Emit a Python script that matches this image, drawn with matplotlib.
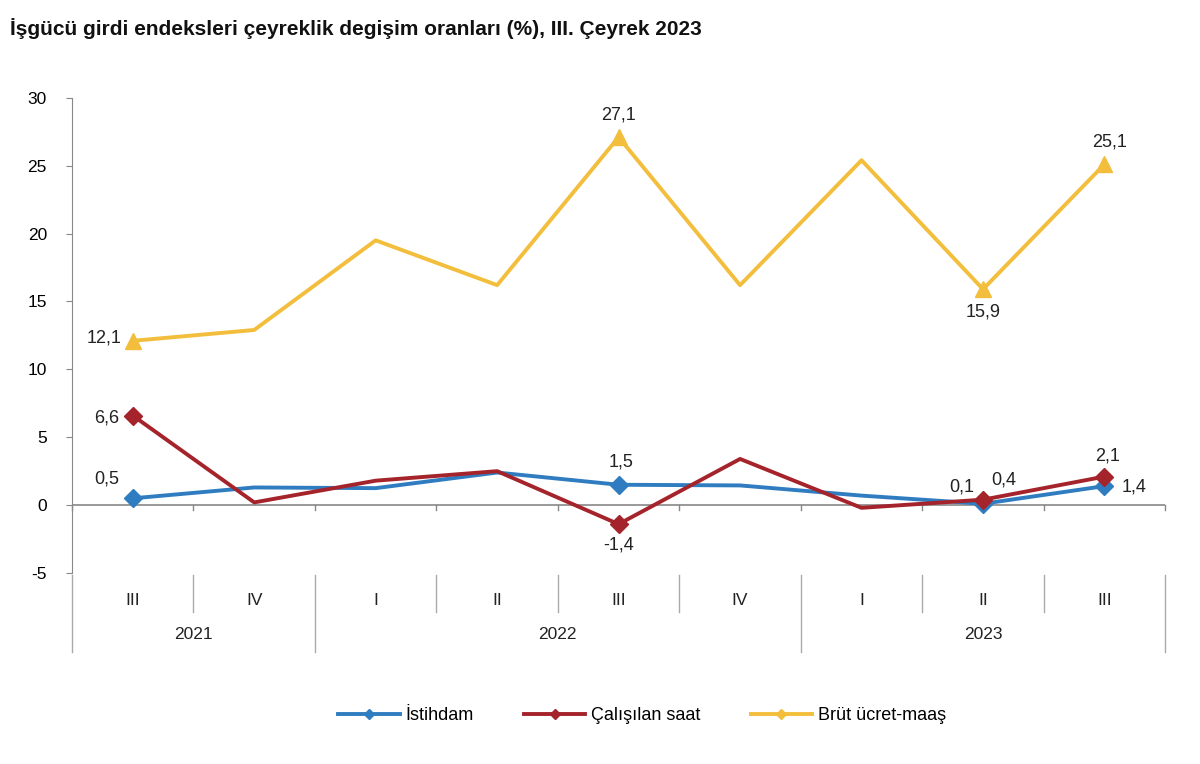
import matplotlib
matplotlib.use("Agg")
import matplotlib.pyplot as plt
import matplotlib.transforms as mtransforms

plt.rcParams['font.family'] = ['Liberation Sans', 'DejaVu Sans']
plt.rcParams['axes.unicode_minus'] = False

quarters = ['III', 'IV', 'I', 'II', 'III', 'IV', 'I', 'II', 'III']
years = ['2021', '2022', '2023']
year_spans = [(0, 2), (2, 6), (6, 9)]   # index ranges of quarters per year

istihdam = [0.5, 1.3, 1.25, 2.4, 1.5, 1.45, 0.7, 0.1, 1.4]
calisilan = [6.6, 0.2, 1.8, 2.5, -1.4, 3.4, -0.2, 0.4, 2.1]
brut = [12.1, 12.9, 19.5, 16.2, 27.1, 16.2, 25.4, 15.9, 25.1]

marked = [0, 4, 7, 8]

c_blue = '#2F7DC0'
c_red = '#A5232B'
c_yel = '#F2BE3C'

fig = plt.figure(figsize=(12, 7.64), dpi=100)
ax = fig.add_axes([0.06, 0.25, 0.911, 0.622])

x = list(range(len(quarters)))
ax.plot(x, istihdam, color=c_blue, lw=2.8, marker='D', ms=9, markevery=marked,
        label='İstihdam', zorder=3)
ax.plot(x, calisilan, color=c_red, lw=2.8, marker='D', ms=9, markevery=marked,
        label='Çalışılan saat', zorder=4)
ax.plot(x, brut, color=c_yel, lw=2.8, marker='^', ms=11, markevery=marked,
        label='Brüt ücret-maaş', zorder=3)

ax.set_xlim(-0.5, len(quarters) - 0.5)
ax.set_ylim(-5, 30)
ax.set_yticks(range(-5, 31, 5))
ax.tick_params(axis='y', labelsize=12.5, length=4, color='#888888', pad=14)
ax.set_xticks([])

for s in ['top', 'right', 'bottom']:
    ax.spines[s].set_visible(False)
ax.spines['left'].set_color('#888888')
ax.spines['left'].set_bounds(-5, 30)

# zero line with category ticks
ax.axhline(0, color='#888888', lw=1.2, zorder=1)
for i in range(len(quarters) + 1):
    ax.plot([i - 0.5, i - 0.5], [0, -0.35], color='#888888', lw=1, clip_on=False)


def fmt(v):
    return ('%.1f' % v).replace('.', ',')


lab_kw = dict(fontsize=13, color='#222222')
# Brüt
ax.annotate(fmt(brut[0]), (0, brut[0]), xytext=(-8, 2), textcoords='offset points', ha='right', va='center', **lab_kw)
ax.annotate(fmt(brut[4]), (4, brut[4]), xytext=(0, 10), textcoords='offset points', ha='center', va='bottom', **lab_kw)
ax.annotate(fmt(brut[7]), (7, brut[7]), xytext=(0, -10), textcoords='offset points', ha='center', va='top', **lab_kw)
ax.annotate(fmt(brut[8]), (8, brut[8]), xytext=(4, 10), textcoords='offset points', ha='center', va='bottom', **lab_kw)
# Çalışılan saat
ax.annotate(fmt(calisilan[0]), (0, calisilan[0]), xytext=(-10, -2), textcoords='offset points', ha='right', va='center', **lab_kw)
ax.annotate(fmt(calisilan[4]), (4, calisilan[4]), xytext=(0, -9), textcoords='offset points', ha='center', va='top', **lab_kw)
ax.annotate(fmt(calisilan[7]), (7, calisilan[7]), xytext=(6, 8), textcoords='offset points', ha='left', va='bottom', **lab_kw)
ax.annotate(fmt(calisilan[8]), (8, calisilan[8]), xytext=(2, 9), textcoords='offset points', ha='center', va='bottom', **lab_kw)
# İstihdam
ax.annotate(fmt(istihdam[0]), (0, istihdam[0]), xytext=(-10, 8), textcoords='offset points', ha='right', va='bottom', **lab_kw)
ax.annotate(fmt(istihdam[4]), (4, istihdam[4]), xytext=(2, 10), textcoords='offset points', ha='center', va='bottom', **lab_kw)
ax.annotate(fmt(istihdam[7]), (7, istihdam[7]), xytext=(-6, 6), textcoords='offset points', ha='right', va='bottom', **lab_kw)
ax.annotate(fmt(istihdam[8]), (8, istihdam[8]), xytext=(12, -1), textcoords='offset points', ha='left', va='center', **lab_kw)

# category table below the plot
tr = mtransforms.blended_transform_factory(ax.transData, ax.transAxes)
line_kw = dict(color='#AAAAAA', lw=1, transform=tr, clip_on=False)
year_edges = {0, 2, 6, 9}
for i in range(len(quarters) + 1):
    bottom = -0.166 if i in year_edges else -0.082
    ax.plot([i - 0.5, i - 0.5], [-0.004, bottom], **line_kw)
for i, q in enumerate(quarters):
    ax.text(i, -0.057, q, transform=tr, ha='center', va='center', fontsize=12.5, color='#222222')
for (a, b), yr in zip(year_spans, years):
    ax.text((a + b - 1) / 2, -0.13, yr, transform=tr, ha='center', va='center', fontsize=12.5, color='#222222')

fig.text(0.008, 0.962, 'İşgücü girdi endeksleri çeyreklik degişim oranları (%), III. Çeyrek 2023',
         fontsize=15, fontweight='bold', ha='left', va='center', color='#111111')

leg = fig.legend(loc='center', bbox_to_anchor=(0.535, 0.063), ncol=3, frameon=False,
                 fontsize=13, handlelength=3.4, columnspacing=2.8, handletextpad=0.3,
                 numpoints=1)
for h in leg.legend_handles:
    h.set_marker('D')
    h.set_markersize(5)

fig.savefig('out.png', dpi=100, facecolor='white')
